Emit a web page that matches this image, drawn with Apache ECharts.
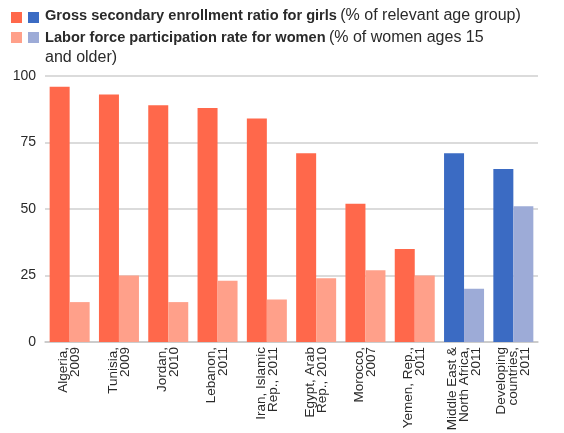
<!DOCTYPE html>
<html><head><meta charset="utf-8">
<script src="https://cdn.jsdelivr.net/npm/echarts@6/dist/echarts.min.js"></script>
<style>html,body{margin:0;padding:0;background:#fff}#c{width:564px;height:433px}</style>
</head><body><div id="c"></div>
<script>
var categories = ["Algeria,\n2009","Tunisia,\n2009","Jordan,\n2010","Lebanon,\n2011","Iran, Islamic\nRep., 2011","Egypt, Arab\nRep., 2010","Morocco,\n2007","Yemen, Rep.,\n2011","Middle East &\nNorth Africa,\n2011","Developing\ncountries,\n2011"];
var enrollment = [96, 93, 89, 88, 84, 71, 52, 35, 71, 65];
var labor = [15, 25, 15, 23, 16, 24, 27, 25, 20, 51];
var yTicks = [0, 25, 50, 75, 100];
var aggregateStart = 8;

var FONT = "Liberation Sans, Arial, sans-serif";
var C1 = '#FF684B', C1L = '#FFA08A', C2 = '#3B6BC3', C2L = '#9DABD7';
var TXT = '#2a2a2a';
var chart = echarts.init(document.getElementById('c'));
chart.setOption({
  animation: false,
  grid: {left: 45, right: 26, top: 76, bottom: 91, containLabel: false, outerBoundsMode: 'none'},
  xAxis: {
    type: 'category', data: categories,
    axisLine: {lineStyle: {color: '#c8c8c8', width: 1.5}},
    axisTick: {show: false},
    axisLabel: {rotate: 90, interval: 0, fontFamily: FONT, fontSize: 13.5, lineHeight: 12, color: TXT, margin: 5}
  },
  yAxis: {
    type: 'value', min: yTicks[0], max: yTicks[yTicks.length-1], interval: 25,
    axisLine: {show: false}, axisTick: {show: false},
    axisLabel: {fontFamily: FONT, fontSize: 14, color: TXT, margin: 9},
    splitLine: {lineStyle: {color: '#cfcfcf', width: 1.5}}
  },
  series: [
    {type: 'bar', data: enrollment, barWidth: 20, barGap: '0%',
     itemStyle: {color: function(p){return p.dataIndex >= aggregateStart ? C2 : C1;}}},
    {type: 'bar', data: labor, barWidth: 20, barGap: '0%',
     itemStyle: {color: function(p){return p.dataIndex >= aggregateStart ? C2L : C1L;}}}
  ],
  graphic: [
    {type: 'rect', shape: {x: 11, y: 12, width: 11, height: 11}, style: {fill: C1}},
    {type: 'rect', shape: {x: 28, y: 12, width: 11, height: 11}, style: {fill: C2}},
    {type: 'rect', shape: {x: 11, y: 32, width: 11, height: 11}, style: {fill: C1L}},
    {type: 'rect', shape: {x: 28, y: 32, width: 11, height: 11}, style: {fill: C2L}},
    {type: 'text', left: 45, top: 8, style: {
      text: '{b|Gross secondary enrollment ratio for girls} {n|(% of relevant age group)}',
      rich: {b: {fontFamily: FONT, fontSize: 14.6, fontWeight: 'bold', fill: TXT, lineHeight: 20}, n: {fontFamily: FONT, fontSize: 16, fill: TXT, lineHeight: 20}}}},
    {type: 'text', left: 45, top: 28, style: {
      text: '{b|Labor force participation rate for women} {n|(% of women ages 15}\n{n|and older)}',
      lineHeight: 20,
      rich: {b: {fontFamily: FONT, fontSize: 14.6, fontWeight: 'bold', fill: TXT, lineHeight: 20}, n: {fontFamily: FONT, fontSize: 16, fill: TXT, lineHeight: 20}}}}
  ]
});
</script></body></html>
